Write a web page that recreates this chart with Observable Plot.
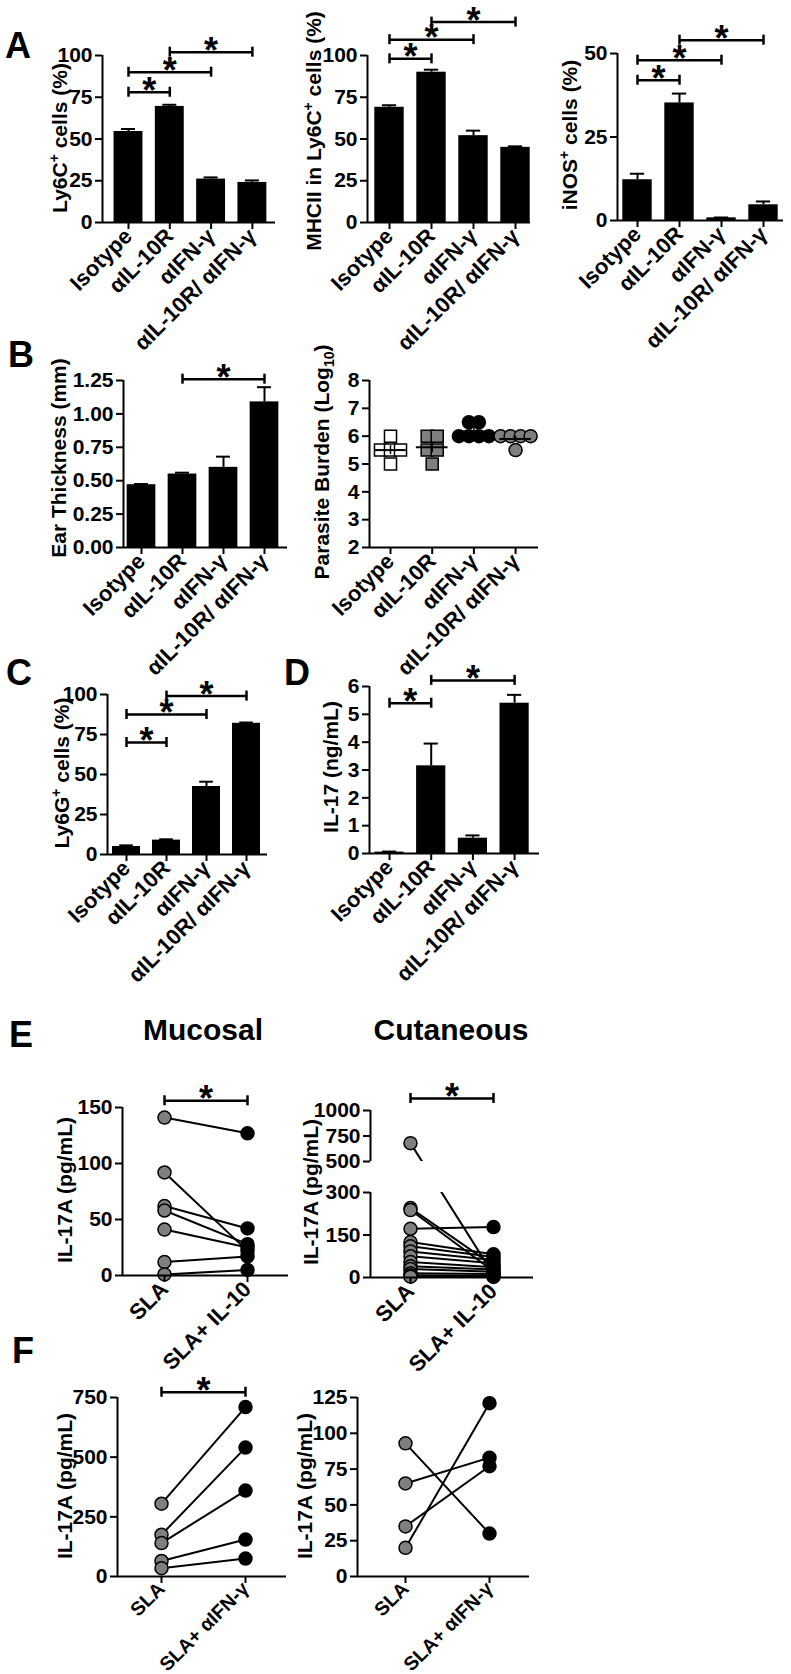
<!DOCTYPE html>
<html><head><meta charset="utf-8">
<script src="https://cdn.jsdelivr.net/npm/d3@7"></script>
<script src="https://cdn.jsdelivr.net/npm/@observablehq/plot@0.6"></script>
<style>
body{margin:0;background:#fff;}
#fig{position:relative;width:791px;height:1674px;overflow:hidden;background:#fff;}
#fig svg{max-width:none;position:absolute;}
</style></head><body><div id="fig"></div>
<script>
// ---------- data ----------
const groups = ["Isotype", "αIL-10R", "αIFN-γ", "αIL-10R/ αIFN-γ"];
const ly6cPct = [54.5, 69.5, 26, 24];
const ly6cErr = [1.5, 1.0, 1.0, 1.2];
const mhciiPct = [69, 90, 52, 45];
const mhciiErr = [1.2, 1.5, 3.0, 0.6];
const inosPct = [12.2, 35.2, 0.8, 4.7];
const inosErr = [1.8, 2.8, 0.1, 1.0];
const earMm = [0.47, 0.55, 0.60, 1.09];
const earErr = [0.005, 0.01, 0.08, 0.11];
const burdenIsotype = [6.0, 5.5, 5.5, 5.5, 5.0];
const burdenIL10R = [6.0, 6.0, 5.5, 5.5, 5.0];
const burdenIFNg = [6.5, 6.5, 6.0, 6.0, 6.0, 6.0];
const burdenBoth = [6.0, 6.0, 6.0, 6.0, 5.5];
const ly6gPct = [5, 9, 42.5, 82];
const ly6gErr = [0.7, 0.5, 3.0, 0.5];
const il17 = [0.05, 3.15, 0.55, 5.4];
const il17Err = [0.02, 0.8, 0.1, 0.3];

const condE = ["SLA", "SLA+ IL-10"];
const condF = ["SLA", "SLA+ αIFN-γ"];
const mucosalSLA = [141, 92, 62, 58, 41, 12, 1];
const mucosalIL10 = [127, 22, 42, 28, 25, 17, 5];
const cutaneousSLA = [680, 245, 238, 172, 125, 110, 92, 75, 55, 40, 30, 15, 8, 3];
const cutaneousIL10 = [10, 42, 22, 178, 82, 72, 62, 50, 36, 28, 20, 12, 6, 2];
const mucosalIFN_SLA = [305, 175, 140, 65, 35];
const mucosalIFN_anti = [710, 540, 360, 155, 75];
const cutaneousIFN_SLA = [93, 65, 35, 20];
const cutaneousIFN_anti = [30, 83, 77, 121];

// significance brackets: [from group, to group, height]
const sigLy6c = [[0, 1, 78], [0, 2, 90], [1, 3, 102]];
const sigMhcii = [[0, 1, 98], [0, 2, 109.5], [1, 3, 120]];
const sigInos = [[0, 1, 42], [0, 2, 48], [1, 3, 54]];
const sigEar = [[1, 3, 1.26]];
const sigLy6g = [[0, 1, 70], [0, 2, 87.5], [1, 3, 99]];
const sigIl17 = [[0, 1, 5.4], [1, 3, 6.22]];
const sigMucosal = [[0, 1, 156]];
const sigCutaneous = [[0, 1, 1118]];
const sigMucosalIFN = [[0, 1, 772]];

// tick values
const ticksPct = [0, 25, 50, 75, 100];
const ticksInos = [0, 25, 50];
const ticksEar = [0, 0.25, 0.5, 0.75, 1.0, 1.25];
const ticksBurden = [2, 3, 4, 5, 6, 7, 8];
const ticksIl17 = [0, 1, 2, 3, 4, 5, 6];
const ticksMucosal = [0, 50, 100, 150];
const ticksCutaneous = [0, 150, 300, 500, 750, 1000];
const ticksMucosalIFN = [0, 250, 500, 750];
const ticksCutaneousIFN = [0, 25, 50, 75, 100, 125];

// ---------- helpers ----------
const FONT = '"Liberation Sans", Arial, Helvetica, sans-serif';
const GRAY = "#7f7f7f";
const fig = document.getElementById("fig");
const NS = "http://www.w3.org/2000/svg";

function bracketMarks(list) {
  const br = list.map(([a, b, y]) => ({a, b, y}));
  return [
    Plot.ruleY(br, {y: "y", x1: "a", x2: "b", strokeWidth: 2.5}),
    Plot.ruleX(br, {x: "a", y1: "y", y2: "y", insetTop: -5, insetBottom: -5, strokeWidth: 2.5}),
    Plot.ruleX(br, {x: "b", y1: "y", y2: "y", insetTop: -5, insetBottom: -5, strokeWidth: 2.5}),
    Plot.text(br, {x: d => (d.a + d.b) / 2, y: "y", text: () => "*", fontSize: 36, fontWeight: "bold", lineAnchor: "middle", dy: -1})
  ];
}

function addYLabel(svg, ox, oy, bx, cy, parts) {
  const t = document.createElementNS(NS, "text");
  t.setAttribute("transform", `translate(${bx - ox},${cy - oy}) rotate(-90)`);
  t.setAttribute("text-anchor", "middle");
  t.setAttribute("font-size", "21");
  t.setAttribute("font-weight", "bold");
  t.setAttribute("font-family", FONT);
  t.setAttribute("fill", "black");
  t.style.whiteSpace = "pre";
  let shift = 0;
  for (const [s, kind] of parts) {
    const ts = document.createElementNS(NS, "tspan");
    ts.textContent = s;
    let target = 0;
    if (kind === "sup") { ts.setAttribute("font-size", "14"); target = -8; }
    if (kind === "sub") { ts.setAttribute("font-size", "14"); target = 5; }
    if (target - shift !== 0) ts.setAttribute("dy", target - shift);
    shift = target;
    t.appendChild(ts);
  }
  svg.appendChild(t);
}

function makePanel(o) {
  const ml = 100, mr = 14, mt = 70;
  const mb = Math.min(150, 1674 - o.Y0);
  const width = o.X1 - o.X0 + ml + mr;
  const height = o.Y0 - o.Ytop + mt + mb;
  const xDomain = [(o.X0 - o.c0) / o.step, (o.X1 - o.c0) / o.step];
  const yDomain = o.yDomain;
  const yPx = o.yPx || [o.Y0, o.Ytop];
  const range = yPx.map(p => p - o.Ytop + mt);
  const segs = o.axisSegments || [[yDomain[0], yDomain[yDomain.length - 1]]];
  const svg = Plot.plot({
    width, height, marginLeft: ml, marginRight: mr, marginTop: mt, marginBottom: mb,
    style: {fontFamily: FONT, fontSize: "21px", fontWeight: "bold", background: "transparent", overflow: "visible", color: "#000"},
    x: {type: "linear", domain: xDomain},
    y: {type: "linear", domain: yDomain, range},
    marks: [
      ...o.marks(xDomain),
      Plot.ruleY([yDomain[0]], {x1: () => xDomain[0], x2: () => xDomain[1], strokeWidth: 2}),
      Plot.ruleX(segs, {x: () => xDomain[0], y1: d => d[0], y2: d => d[1], strokeWidth: 2}),
      Plot.axisX({ticks: o.xTicks, tickFormat: i => o.xLabels[i], tickRotate: -45, tickSize: 7, tickPadding: o.xPad ?? 3, strokeWidth: 2, fontSize: o.xFont || 22, label: null}),
      Plot.axisY({ticks: o.yTicks, tickFormat: o.yFormat || (d => String(d)), tickSize: 7, tickPadding: 3, strokeWidth: 2, fontSize: 21, label: null})
    ]
  });
  const ox = o.X0 - ml, oy = o.Ytop - mt;
  svg.style.left = ox + "px";
  svg.style.top = oy + "px";
  addYLabel(svg, ox, oy, o.labelX, o.labelY, o.label);
  fig.appendChild(svg);
  return svg;
}

function barPanel(o) {
  const data = o.values.map((v, i) => ({i, v, e: o.errors[i]}));
  return makePanel({
    ...o,
    xTicks: [0, 1, 2, 3], xLabels: groups,
    marks: () => [
      Plot.rect(data, {x1: d => d.i - 0.35, x2: d => d.i + 0.35, y1: () => 0, y2: "v", fill: "black"}),
      Plot.ruleX(data, {x: "i", y1: "v", y2: d => d.v + d.e, strokeWidth: 2}),
      Plot.ruleY(data, {y: d => d.v + d.e, x1: d => d.i - 0.17, x2: d => d.i + 0.17, strokeWidth: 2}),
      ...bracketMarks(o.sig)
    ]
  });
}

function pairPanel(o) {
  const pairs = o.before.map((b, k) => ({b, a: o.after[k]}));
  return makePanel({
    ...o,
    xTicks: [0, 1],
    marks: (xd) => [
      Plot.link(pairs, {x1: () => 0, y1: "b", x2: () => 1, y2: "a", stroke: "black", strokeWidth: 2}),
      ...(o.gap ? [Plot.rect([o.gap], {x1: () => xd[0] + 0.01, x2: () => xd[1], y1: d => d[0], y2: d => d[1], fill: "white"})] : []),
      Plot.dot(pairs, {x: () => 0, y: "b", r: 6.5, fill: GRAY, stroke: "black", strokeWidth: 1.5}),
      Plot.dot(pairs, {x: () => 1, y: "a", r: 6.5, fill: "black", stroke: "black", strokeWidth: 1.5}),
      ...bracketMarks(o.sig)
    ]
  });
}

function dodge(vals, w) {
  const counts = d3.rollup(vals, v => v.length, d => d);
  const seen = new Map();
  return vals.map(v => {
    const k = counts.get(v), j = seen.get(v) || 0;
    seen.set(v, j + 1);
    return (j - (k - 1) / 2) * w;
  });
}

// ---------- A ----------
barPanel({X0: 102, X1: 275, Ytop: 55, Y0: 222, c0: 128, step: 41.3,
  yDomain: [0, 100], yTicks: ticksPct, values: ly6cPct, errors: ly6cErr, sig: sigLy6c,
  labelX: 67, labelY: 138, label: [["Ly6C"], ["+", "sup"], [" cells (%)"]]});
barPanel({X0: 367, X1: 530, Ytop: 55, Y0: 222, c0: 389, step: 42,
  yDomain: [0, 100], yTicks: ticksPct, values: mhciiPct, errors: mhciiErr, sig: sigMhcii,
  labelX: 321, labelY: 131, label: [["MHCII in Ly6C"], ["+", "sup"], [" cells (%)"]]});
barPanel({X0: 617, X1: 783, Ytop: 53, Y0: 220, c0: 637, step: 42,
  yDomain: [0, 50], yTicks: ticksInos, values: inosPct, errors: inosErr, sig: sigInos,
  labelX: 577, labelY: 135, label: [["iNOS"], ["+", "sup"], [" cells (%)"]]});

// ---------- B ----------
barPanel({X0: 123, X1: 287, Ytop: 380, Y0: 547, c0: 141, step: 41,
  yDomain: [0, 1.25], yTicks: ticksEar, yFormat: d3.format(".2f"), values: earMm, errors: earErr, sig: sigEar,
  labelX: 66, labelY: 458, label: [["Ear Thickness (mm)"]]});

(function () {
  const sets = [burdenIsotype, burdenIL10R, burdenIFNg, burdenBoth];
  const fills = ["white", GRAY, "black", GRAY];
  const pts = [];
  sets.forEach((vals, g) => {
    const off = dodge(vals, 0.24);
    vals.forEach((v, k) => pts.push({g, v, dx: off[k], fill: fills[g]}));
  });
  const stats = sets.map((vals, g) => {
    const m = d3.mean(vals), se = d3.deviation(vals) / Math.sqrt(vals.length);
    return {g, m, se};
  });
  makePanel({X0: 369, X1: 538, Ytop: 380, Y0: 547, c0: 390, step: 41.7,
    yDomain: [2, 8], yTicks: ticksBurden, xTicks: [0, 1, 2, 3], xLabels: groups,
    labelX: 329, labelY: 462, label: [["Parasite Burden (Log"], ["10", "sub"], [")"]],
    marks: () => [
      Plot.dot(pts.filter(d => d.g < 2), {x: d => d.g + d.dx, y: "v", symbol: "square", r: 6.8, fill: "fill", stroke: "black", strokeWidth: 1.5}),
      Plot.dot(pts.filter(d => d.g >= 2), {x: d => d.g + d.dx, y: "v", symbol: "circle", r: 6.5, fill: "fill", stroke: "black", strokeWidth: 1.5}),
      Plot.ruleY(stats, {y: "m", x1: d => d.g - 0.38, x2: d => d.g + 0.38, strokeWidth: 2}),
      Plot.ruleX(stats, {x: "g", y1: d => d.m - d.se, y2: d => d.m + d.se, strokeWidth: 1.5})
    ]});
})();

// ---------- C, D ----------
barPanel({X0: 107, X1: 267, Ytop: 694, Y0: 854, c0: 126, step: 40,
  yDomain: [0, 100], yTicks: ticksPct, values: ly6gPct, errors: ly6gErr, sig: sigLy6g,
  labelX: 69, labelY: 773, label: [["Ly6G"], ["+", "sup"], [" cells (%)"]]});
barPanel({X0: 369, X1: 539, Ytop: 686, Y0: 853, c0: 389, step: 41.7,
  yDomain: [0, 6], yTicks: ticksIl17, values: il17, errors: il17Err, sig: sigIl17,
  labelX: 338, labelY: 767, label: [["IL-17 (ng/mL)"]]});

// ---------- E ----------
pairPanel({X0: 122, X1: 288, Ytop: 1107, Y0: 1275, c0: 164, step: 83,
  yDomain: [0, 150], yTicks: ticksMucosal, xLabels: condE,
  before: mucosalSLA, after: mucosalIL10, sig: sigMucosal,
  labelX: 72, labelY: 1190, label: [["IL-17A (pg/mL)"]]});
pairPanel({X0: 370, X1: 533, Ytop: 1110, Y0: 1277, c0: 410, step: 83,
  yDomain: [0, 300, 500, 1000], yPx: [1277, 1192, 1161, 1110], axisSegments: [[0, 300], [500, 1000]],
  gap: [300, 500],
  yTicks: ticksCutaneous, xLabels: condE,
  before: cutaneousSLA, after: cutaneousIL10, sig: sigCutaneous,
  labelX: 318, labelY: 1192, label: [["IL-17A (pg/mL)"]]});

// ---------- F ----------
pairPanel({X0: 117, X1: 286, Ytop: 1397, Y0: 1576, c0: 161, step: 84,
  yDomain: [0, 750], yTicks: ticksMucosalIFN, xLabels: condF, xFont: 19.5, xPad: 2,
  before: mucosalIFN_SLA, after: mucosalIFN_anti, sig: sigMucosalIFN,
  labelX: 72, labelY: 1486, label: [["IL-17A (pg/mL)"]]});
pairPanel({X0: 357, X1: 529, Ytop: 1397, Y0: 1576, c0: 405, step: 84,
  yDomain: [0, 125], yTicks: ticksCutaneousIFN, xLabels: condF, xFont: 19.5, xPad: 2,
  before: cutaneousIFN_SLA, after: cutaneousIFN_anti, sig: [],
  labelX: 312, labelY: 1486, label: [["IL-17A (pg/mL)"]]});

// ---------- panel letters and titles ----------
(function () {
  const s = d3.create("svg").attr("width", 791).attr("height", 1674)
    .style("left", "0px").style("top", "0px")
    .attr("font-family", FONT).attr("font-weight", "bold");
  const letters = [["A", 5, 58], ["B", 8, 367], ["C", 6, 685], ["D", 284, 685], ["E", 9, 1047], ["F", 12, 1363]];
  for (const [t, x, y] of letters) s.append("text").attr("x", x).attr("y", y).attr("font-size", 36).text(t);
  s.append("text").attr("x", 203).attr("y", 1040).attr("font-size", 30).attr("text-anchor", "middle").text("Mucosal");
  s.append("text").attr("x", 451).attr("y", 1040).attr("font-size", 30).attr("text-anchor", "middle").text("Cutaneous");
  fig.appendChild(s.node());
})();
</script>
</body></html>
